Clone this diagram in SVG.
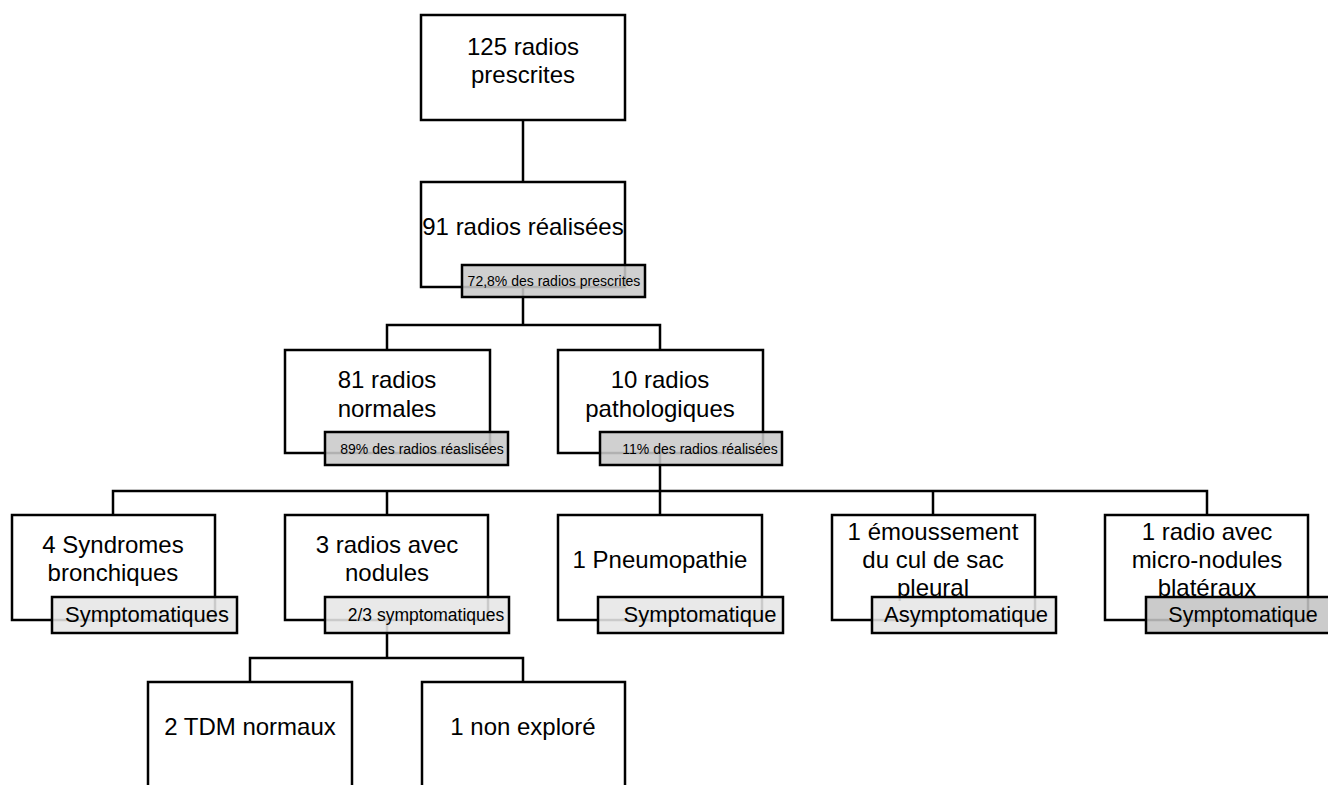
<svg xmlns="http://www.w3.org/2000/svg" width="1328" height="785" viewBox="0 0 1328 785">
<style>
.box{fill:#fff;stroke:#000;stroke-width:2.5}
.lbl{stroke:#000;stroke-width:2.5;fill-opacity:0.88}
.l1{fill:#c9c9c9}
.l2{fill:#e6e6e6}
.l3{fill:#c4c4c4}
.t{font-family:"Liberation Sans",Arial,sans-serif;font-size:24px;fill:#000;text-anchor:middle}
.s{font-family:"Liberation Sans",Arial,sans-serif;font-size:14px;fill:#000;text-anchor:middle}
.m{font-family:"Liberation Sans",Arial,sans-serif;font-size:22px;fill:#000;text-anchor:middle}
.c{fill:none;stroke:#000;stroke-width:2.5}
</style>
<rect width="1328" height="785" fill="#fff"/>
<g id="connectors">
<path class="c" d="M523 120V182"/>
<path class="c" d="M523 287V325M387 350V325H660V350"/>
<path class="c" d="M660 453V515M113 515V491H1207V515M387 491V515M933 491V515"/>
<path class="c" d="M387 620V658M250 682V658H523V682"/>
</g>
<g id="n1"><rect class="box" x="421" y="15" width="204" height="105"/>
<text class="t" x="523" y="55">125 radios</text><text class="t" x="523" y="83">prescrites</text></g>
<g id="n2"><rect class="box" x="421" y="182" width="204" height="105"/>
<text class="t" x="523" y="235">91 radios réalisées</text>
<rect class="lbl l1" x="462" y="265" width="183" height="32"/>
<text class="s" x="554" y="286">72,8% des radios prescrites</text></g>
<g id="n3"><rect class="box" x="285" y="350" width="205" height="103"/>
<text class="t" x="387" y="388">81 radios</text><text class="t" x="387" y="417">normales</text>
<rect class="lbl l1" x="325" y="432" width="183" height="33"/>
<text class="s" x="422" y="454">89% des radios réaslisées</text></g>
<g id="n4"><rect class="box" x="558" y="350" width="205" height="103"/>
<text class="t" x="660" y="388">10 radios</text><text class="t" x="660" y="417">pathologiques</text>
<rect class="lbl l1" x="600" y="432" width="182" height="33"/>
<text class="s" x="700" y="454">11% des radios réalisées</text></g>
<g id="n5"><rect class="box" x="12" y="515" width="203" height="105"/>
<text class="t" x="113" y="553">4 Syndromes</text><text class="t" x="113" y="581">bronchiques</text>
<rect class="lbl l2" x="52" y="597" width="185" height="36"/>
<text class="m" x="147" y="622">Symptomatiques</text></g>
<g id="n6"><rect class="box" x="285" y="515" width="203" height="105"/>
<text class="t" x="387" y="553">3 radios avec</text><text class="t" x="387" y="581">nodules</text>
<rect class="lbl l2" x="325" y="597" width="184" height="36"/>
<text class="m" x="426" y="621" style="font-size:17.5px">2/3 symptomatiques</text></g>
<g id="n7"><rect class="box" x="558" y="515" width="204" height="105"/>
<text class="t" x="660" y="568">1 Pneumopathie</text>
<rect class="lbl l2" x="598" y="597" width="185" height="36"/>
<text class="m" x="700" y="622">Symptomatique</text></g>
<g id="n8"><rect class="box" x="832" y="515" width="203" height="105"/>
<text class="t" x="933" y="540">1 émoussement</text><text class="t" x="933" y="568">du cul de sac</text><text class="t" x="933" y="596">pleural</text>
<rect class="lbl l2" x="872" y="597" width="184" height="36"/>
<text class="m" x="966" y="622">Asymptomatique</text></g>
<g id="n9"><rect class="box" x="1105" y="515" width="203" height="105"/>
<text class="t" x="1207" y="540">1 radio avec</text><text class="t" x="1207" y="568">micro-nodules</text><text class="t" x="1207" y="596">blatéraux</text>
<rect class="lbl l3" x="1146" y="597" width="184" height="36"/>
<text class="m" x="1243" y="622" style="font-size:21.5px">Symptomatique</text></g>
<g id="n10"><rect class="box" x="148" y="682" width="204" height="120"/>
<text class="t" x="250" y="735">2 TDM normaux</text></g>
<g id="n11"><rect class="box" x="422" y="682" width="203" height="120"/>
<text class="t" x="523" y="735">1 non exploré</text></g>
</svg>
